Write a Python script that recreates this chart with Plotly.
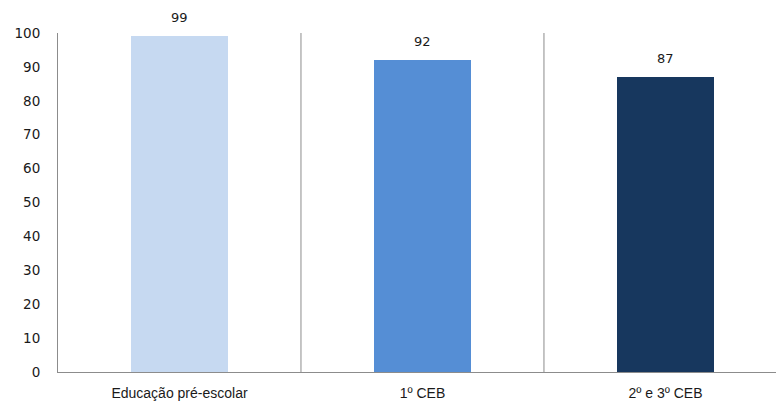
import plotly.graph_objects as go

categories = ["Educação pré-escolar", "1º CEB", "2º e 3º CEB"]
values = [99, 92, 87]
colors = ["#C6D9F1", "#558ED5", "#17375E"]
y_ticks = list(range(0, 101, 10))
separators = [0.5, 1.5]

fig = go.Figure()
fig.add_trace(go.Bar(
    x=categories, y=values,
    marker=dict(color=colors, line=dict(width=0)),
    width=0.40,
))

for c, v in zip(categories, values):
    fig.add_annotation(x=c, y=v, text=str(v), showarrow=False,
                       yanchor="bottom", yshift=9,
                       font=dict(family="DejaVu Sans", size=13, color="#1a1a1a"))

for s in separators:
    fig.add_shape(type="line", xref="x", yref="paper", x0=s, x1=s, y0=0, y1=1,
                  line=dict(color="#8c8c8c", width=1), layer="below")

fig.update_layout(
    width=776, height=403,
    margin=dict(l=58, r=0, t=33, b=31),
    paper_bgcolor="white", plot_bgcolor="white",
    showlegend=False,
    bargap=0,
)
fig.update_xaxes(
    range=[-0.5, 2.455], showgrid=False,
    ticks="", showline=True, linecolor="#8c8c8c", linewidth=1,
    tickfont=dict(family="Liberation Sans", size=14, color="#1a1a1a"),
    ticklabelstandoff=8,
)
fig.update_yaxes(
    range=[0, 100], tickvals=y_ticks, showgrid=False, zeroline=False,
    showline=True, linecolor="#8c8c8c", linewidth=1, ticks="", mirror=False,
    tickfont=dict(family="DejaVu Sans", size=13.5, color="#1a1a1a"),
    ticklabelstandoff=14,
)

fig.write_html("out.html", config={"displayModeBar": False})
